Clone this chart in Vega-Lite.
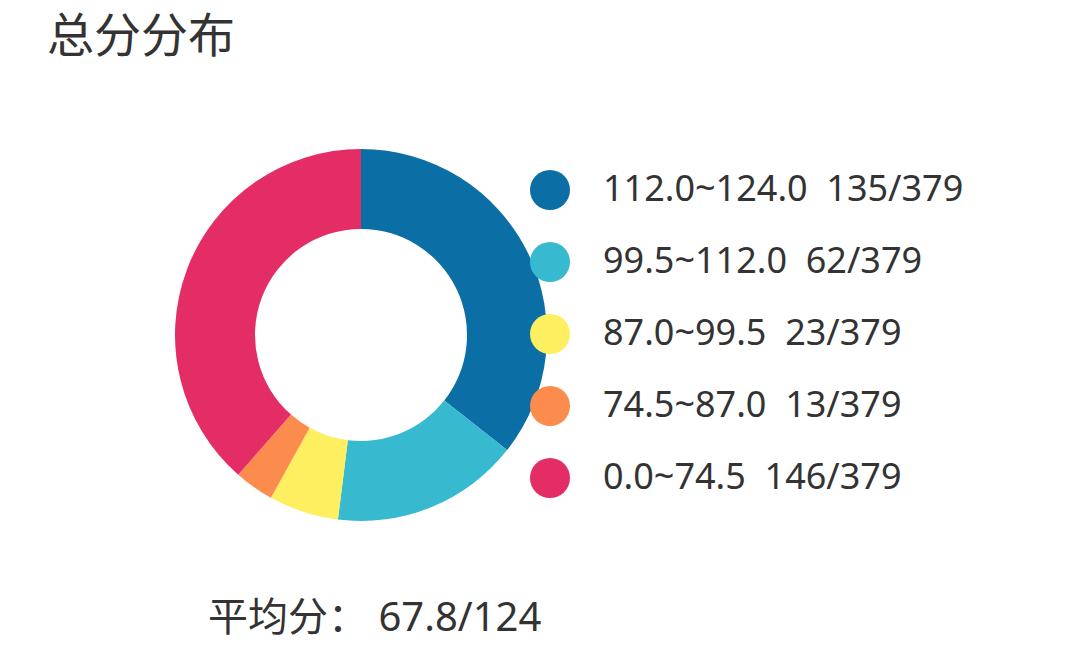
{
  "$schema": "https://vega.github.io/schema/vega-lite/v6.json",
  "autosize": {"type": "none"},
  "width": 628,
  "height": 372,
  "padding": {"left": 47, "top": 149, "right": 405, "bottom": 135},
  "background": "white",
  "title": {
    "text": "总分分布",
    "anchor": "start",
    "orient": "top",
    "offset": 87,
    "fontSize": 47,
    "fontWeight": "normal",
    "font": "Noto Sans CJK SC",
    "color": "#333333"
  },
  "config": {
    "view": {"stroke": null},
    "font": "Noto Sans, Noto Sans CJK SC"
  },
  "layer": [
    {
      "data": {
        "values": [
          {"order": 1, "label": "112.0~124.0\u00a0\u00a0135/379", "count": 135},
          {"order": 2, "label": "99.5~112.0\u00a0\u00a062/379", "count": 62},
          {"order": 3, "label": "87.0~99.5\u00a0\u00a023/379", "count": 23},
          {"order": 4, "label": "74.5~87.0\u00a0\u00a013/379", "count": 13},
          {"order": 5, "label": "0.0~74.5\u00a0\u00a0146/379", "count": 146}
        ]
      },
      "mark": {"type": "arc", "outerRadius": 186, "innerRadius": 106, "stroke": null},
      "encoding": {
        "theta": {"field": "count", "type": "quantitative", "stack": true},
        "order": {"field": "order", "type": "ordinal"},
        "color": {
          "field": "label",
          "type": "nominal",
          "sort": null,
          "scale": {
            "domain": [
              "112.0~124.0\u00a0\u00a0135/379",
              "99.5~112.0\u00a0\u00a062/379",
              "87.0~99.5\u00a0\u00a023/379",
              "74.5~87.0\u00a0\u00a013/379",
              "0.0~74.5\u00a0\u00a0146/379"
            ],
            "range": ["#0B6FA6", "#37B9CF", "#FDEF5F", "#FC8B4E", "#E42D64"]
          },
          "legend": {
            "title": null,
            "orient": "none",
            "legendX": 483,
            "legendY": 21,
            "padding": 0,
            "symbolType": "circle",
            "symbolSize": 1600,
            "symbolStrokeWidth": 0,
            "symbolOpacity": 1,
            "labelFontSize": 36,
            "labelColor": "#333333",
            "labelFont": "Noto Sans",
            "labelOffset": 33,
            "labelLimit": 500,
            "rowPadding": 32
          }
        }
      }
    },
    {
      "data": {"values": [{"note": "平均分：\u00a067.8/124"}]},
      "mark": {
        "type": "text",
        "align": "left",
        "baseline": "middle",
        "dx": -153,
        "dy": 284,
        "fontSize": 40,
        "font": "Noto Sans, Noto Sans CJK SC",
        "color": "#333333"
      },
      "encoding": {"text": {"field": "note", "type": "nominal"}}
    }
  ]
}
